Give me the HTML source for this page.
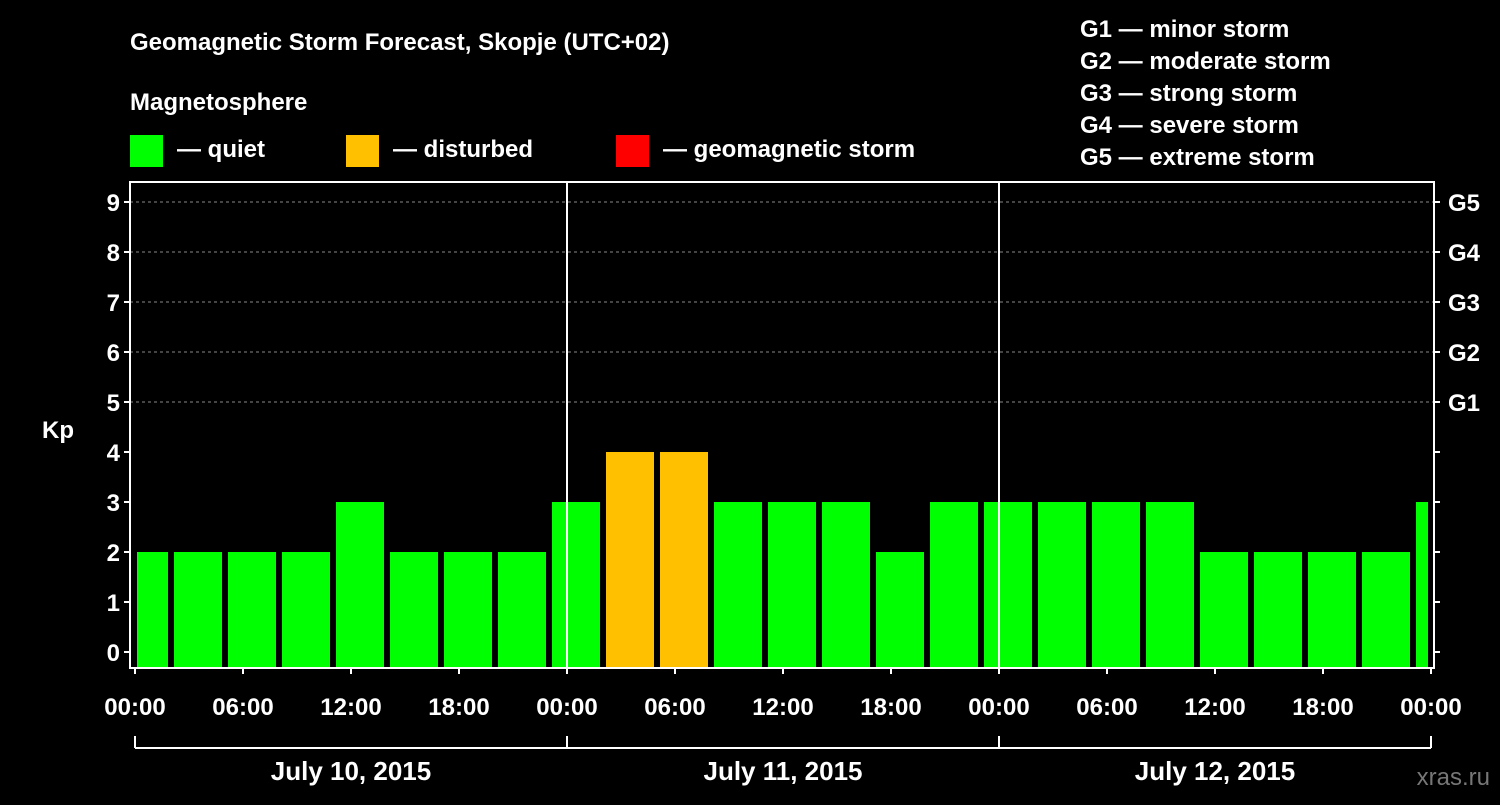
<!DOCTYPE html>
<html><head><meta charset="utf-8"><style>
body{margin:0;background:#000;width:1500px;height:800px;overflow:hidden;font-family:"Liberation Sans",sans-serif}
svg text{font-family:"Liberation Sans",sans-serif;font-weight:bold;fill:#fff}
</style></head><body>
<svg id="c" width="1500" height="800">
<text x="130" y="50" font-size="24">Geomagnetic Storm Forecast, Skopje (UTC+02)</text>
<text x="130" y="110" font-size="24">Magnetosphere</text>
<rect x="130" y="135" width="33" height="32" fill="#00ff00"/>
<text x="177" y="157" font-size="24">— quiet</text>
<rect x="346" y="135" width="33" height="32" fill="#ffc000"/>
<text x="393" y="157" font-size="24">— disturbed</text>
<rect x="616" y="135" width="33" height="32" fill="#ff0000"/>
<text x="663" y="157" font-size="24">— geomagnetic storm</text>
<g font-size="24">
<text x="1080" y="37">G1 — minor storm</text>
<text x="1080" y="69">G2 — moderate storm</text>
<text x="1080" y="101">G3 — strong storm</text>
<text x="1080" y="133">G4 — severe storm</text>
<text x="1080" y="165">G5 — extreme storm</text>
</g>
<text x="42" y="438" font-size="24">Kp</text>
<text x="1490" y="785" font-size="24" text-anchor="end" style="fill:#777;font-weight:normal">xras.ru</text>
<g id="plot"></g>
</svg>
<script>
const kpValues=[2,2,2,2,3,2,2,2,3,4,4,3,3,3,2,3,3,3,3,3,2,2,2,2,3];
const barStartHours=[-1,2,5,8,11,14,17,20,23,26,29,32,35,38,41,44,47,50,53,56,59,62,65,68,71];
const yTicks=[0,1,2,3,4,5,6,7,8,9];
const gLabels=["G1","G2","G3","G4","G5"];
const gLevels=[5,6,7,8,9];
const xTickLabels=["00:00","06:00","12:00","18:00","00:00","06:00","12:00","18:00","00:00","06:00","12:00","18:00","00:00"];
const dayLabels=["July 10, 2015","July 11, 2015","July 12, 2015"];
const NS="http://www.w3.org/2000/svg";
const g=document.getElementById('plot');
const L=130,R=1434,T=182,B=668,X0=135,X1=1431;
const x=h=>X0+(X1-X0)*h/72;
const y=v=>652-50*v;
function mk(t,a,txt){const e=document.createElementNS(NS,t);for(const k in a)e.setAttribute(k,a[k]);if(txt!=null)e.textContent=txt;g.appendChild(e);return e;}
// grid
gLevels.forEach((v,i)=>{
 const l=mk('line',{x1:L,x2:R,y1:y(v),y2:y(v),stroke:'#888','stroke-dasharray':'3,3'});
 
 
 const t=mk('text',{x:1448,y:y(v)+9,'font-size':24},gLabels[i]);
 
 
});
// bars
kpValues.forEach((v,i)=>{
 let a=x(barStartHours[i])+3,b=x(barStartHours[i]+3)-3;
 a=Math.max(a,X0+2);b=Math.min(b,X1-3);
 const c=v>=5?'#ff0000':(v>=4?'#ffc000':'#00ff00');
 const r=mk('rect',{x:a,y:y(v),width:b-a,height:y(-0.3)-y(v),fill:c});
 
 
});
// frame
const f=mk('rect',{x:L,y:T,width:R-L,height:B-T,fill:'none',stroke:'#fff','stroke-width':2});


[24,48].forEach(h=>{
 const l=mk('line',{x1:x(h),x2:x(h),y1:T,y2:B,stroke:'#fff','stroke-width':2});
 
 
});
yTicks.forEach(v=>{
 mk('line',{x1:L-6,x2:L,y1:y(v),y2:y(v),stroke:'#fff','stroke-width':2});
 mk('line',{x1:R,x2:R+6,y1:y(v),y2:y(v),stroke:'#fff','stroke-width':2});
 const t=mk('text',{x:L-10,y:y(v)+9,'font-size':24,'text-anchor':'end'},String(v));
 
 
});
xTickLabels.forEach((s,i)=>{
 mk('line',{x1:x(i*6),x2:x(i*6),y1:B,y2:B+6,stroke:'#fff','stroke-width':2});
 const t=mk('text',{x:x(i*6),y:715,'font-size':24,'text-anchor':'middle'},s);
 
 
});
mk('line',{x1:X0,x2:X1,y1:748,y2:748,stroke:'#fff','stroke-width':2});
[0,24,48,72].forEach(h=>mk('line',{x1:x(h),x2:x(h),y1:736,y2:748,stroke:'#fff','stroke-width':2}));
dayLabels.forEach((s,i)=>{
 const t=mk('text',{x:x(i*24+12),y:780,'font-size':26,'text-anchor':'middle'},s);
 
 
});
</script>
</body></html>
